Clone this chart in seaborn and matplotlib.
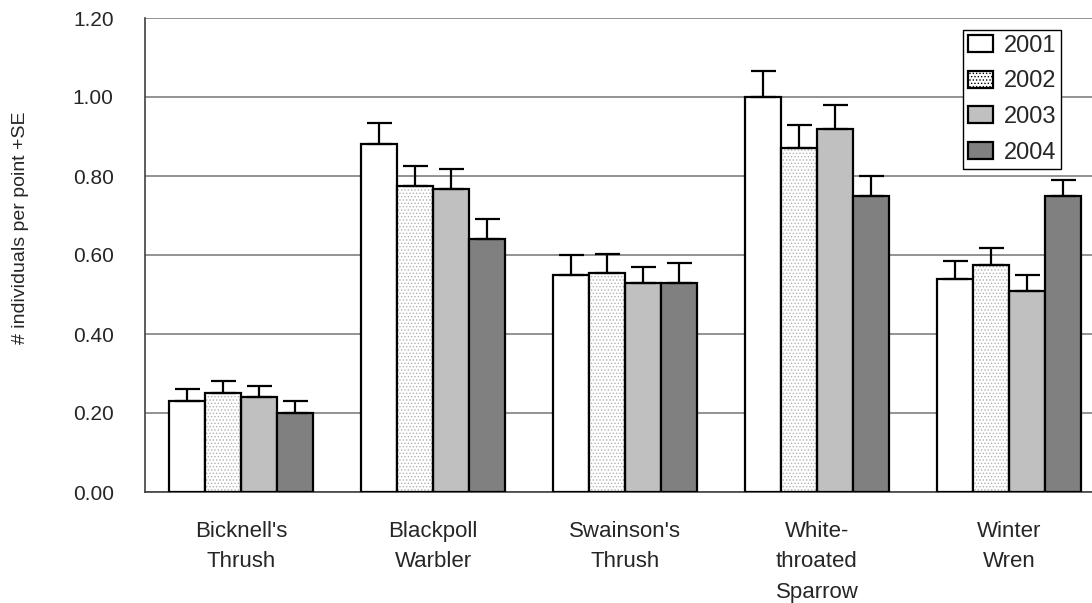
import numpy as np
import pandas as pd
import matplotlib
matplotlib.use("Agg")
import matplotlib.pyplot as plt
from matplotlib.patches import Patch, Rectangle
import seaborn as sns

# datos
especies = ["Bicknell's\nThrush", "Blackpoll\nWarbler", "Swainson's\nThrush",
            "White-\nthroated\nSparrow", "Winter\nWren"]
years = ["2001", "2002", "2003", "2004"]

mean_2001 = [0.23, 0.88, 0.55, 1.00, 0.54]
mean_2002 = [0.25, 0.775, 0.555, 0.87, 0.575]
mean_2003 = [0.24, 0.768, 0.53, 0.92, 0.51]
mean_2004 = [0.20, 0.64, 0.53, 0.75, 0.75]

se_2001 = [0.032, 0.053, 0.05, 0.065, 0.045]
se_2002 = [0.031, 0.05, 0.048, 0.06, 0.042]
se_2003 = [0.028, 0.05, 0.04, 0.06, 0.04]
se_2004 = [0.031, 0.05, 0.05, 0.05, 0.04]

colores = ["#ffffff", "#ffffff", "#c0c0c0", "#808080"]

#%%

means = [mean_2001, mean_2002, mean_2003, mean_2004]
ses = [se_2001, se_2002, se_2003, se_2004]

df = pd.DataFrame({
    "especie": especies * len(years),
    "year": np.repeat(years, len(especies)),
    "mean": np.concatenate(means),
    "se": np.concatenate(ses),
})

sns.set_style("white")
plt.rcParams["font.family"] = ["Liberation Sans", "DejaVu Sans"]
plt.rcParams["hatch.linewidth"] = 0.6

fig = plt.figure(figsize=(10.92, 6.03), dpi=100)
ax = fig.add_axes([145 / 1092, 1 - 492 / 603, (1105 - 145) / 1092, (492 - 18) / 603])

sns.barplot(data=df, x="especie", y="mean", hue="year", palette=colores,
            width=0.75, edgecolor="black", linewidth=1.6, errorbar=None,
            legend=False, ax=ax, zorder=3)

# barras de error (solo +SE)
for cont, se in zip(ax.containers, ses):
    xs = [b.get_x() + b.get_width() / 2 for b in cont]
    hs = [b.get_height() for b in cont]
    ax.errorbar(xs, hs, yerr=[np.zeros(len(se)), se], fmt="none",
                ecolor="black", elinewidth=1.6, capsize=9, capthick=1.6, zorder=4)

# patron de puntos para 2002
for b in ax.containers[1]:
    b.set_hatch(".....")
    b.set_edgecolor("#b0b0b0")
    b.set_linewidth(0)
    ax.add_patch(Rectangle(b.get_xy(), b.get_width(), b.get_height(), fill=False,
                           edgecolor="black", linewidth=1.6, zorder=3.5))

ax.set_ylim(0, 1.2)
ax.set_xlim(-0.5, len(especies) - 0.5)
ax.set_yticks(np.arange(0, 1.21, 0.2))
ax.set_yticklabels([f"{v:.2f}" for v in np.arange(0, 1.21, 0.2)], fontsize=15)
ax.yaxis.grid(True, color="#808080", linewidth=1.2, zorder=0)
ax.set_axisbelow(True)

ax.set_xticks(range(len(especies)))
ax.set_xticklabels(especies, fontsize=16, linespacing=1.58, va="top")
ax.set_xticks(np.arange(-0.5, len(especies), 1), minor=True)
ax.tick_params(axis="x", which="major", length=0, pad=21)
ax.tick_params(axis="x", which="minor", length=7, width=1, color="#404040", direction="out")
ax.tick_params(axis="y", length=8.5, width=1, color="#404040", direction="out", pad=14)

ax.set_xlabel("")
ax.set_ylabel("# individuals per point +SE", fontsize=14)
ax.yaxis.set_label_coords(-0.121, 0.557)

for s in ["top", "right"]:
    ax.spines[s].set_visible(False)
for s in ["left", "bottom"]:
    ax.spines[s].set_color("#404040")
    ax.spines[s].set_linewidth(1.2)

# leyenda
handles = [Patch(facecolor=c, edgecolor="black", linewidth=1.6) for c in colores]
handles[1] = Patch(facecolor="white", edgecolor="black", linewidth=1.6, hatch=".....")
leg = fig.legend(handles, years, loc="upper center", bbox_to_anchor=(1012 / 1092, 1 - 30 / 603),
                 fontsize=17, frameon=True, fancybox=False, framealpha=1,
                 edgecolor="black", handlelength=1.05, handleheight=0.72,
                 labelspacing=0.58, handletextpad=0.45, borderpad=0.2,
                 borderaxespad=0)
leg.get_frame().set_linewidth(1.0)

fig.savefig("out.png", dpi=100)
